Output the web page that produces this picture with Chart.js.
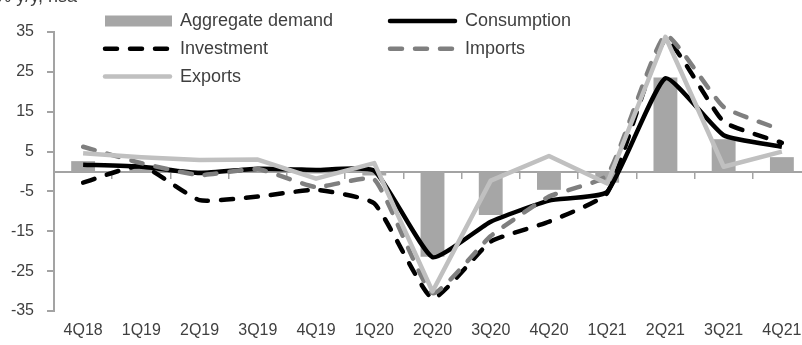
<!DOCTYPE html>
<html>
<head>
<meta charset="utf-8">
<script src="https://cdn.jsdelivr.net/npm/chart.js@4.4.1/dist/chart.umd.min.js"></script>
<style>
    html, body { margin: 0; padding: 0; background: #fff; overflow: hidden; }
    #wrap { position: relative; width: 802px; height: 345px; overflow: hidden; }
    #wrap canvas { position: absolute; left: 0; top: 0; }
</style>
</head>
<body>
<div id="wrap"><canvas id="demandChart" width="812" height="345"></canvas></div>
<script>
// ---------------- Datos ----------------

const quarters = ['4Q18', '1Q19', '2Q19', '3Q19', '4Q19', '1Q20', '2Q20', '3Q20', '4Q20', '1Q21', '2Q21', '3Q21', '4Q21'];

const aggregateDemand = [2.6, 1.0, 0.3, 0.6, -0.5, -1.0, -21.4, -10.9, -4.6, -2.8, 23.6, 8.1, 3.6];
const consumption     = [1.7, 1.2, -0.4, 0.7, 0.4, 0.2, -21.5, -12.6, -7.3, -5.1, 23.4, 9.1, 6.2];
const investment      = [-2.8, 1.4, -7.2, -6.3, -4.6, -8.0, -31.8, -17.6, -12.6, -5.4, 33.0, 12.5, 7.2];
const imports         = [6.2, 2.1, -0.9, 0.6, -3.9, -2.0, -30.5, -16.2, -6.3, -0.9, 34.2, 16.2, 10.4];
const exportsSeries   = [4.6, 3.6, 2.9, 3.0, -1.8, 2.1, -30.1, -2.3, 3.9, -3.0, 33.8, 1.2, 5.0];

const yTicks = [-35, -25, -15, -5, 5, 15, 25, 35];
const unitLabel = '% y/y, nsa';

// ---------------- Estilos ----------------

const FONT = "'Liberation Sans', Arial, sans-serif";
const TEXT = '#3f3f3f';
const AXIS = '#a3a3a3';
const DASH = [12, 13];

const LEGEND = { left: 103, top: 21, colGap: 285, rowGap: 27.8, swatch: 69, textGap: 8 };

// ---------------- Leyenda y unidad ----------------

const gridLegend = {
    id: 'gridLegend',
    afterDraw(chart) {
        const ctx = chart.ctx;
        ctx.save();

        ctx.font = `18px ${FONT}`;
        ctx.fillStyle = TEXT;
        ctx.textAlign = 'right';
        ctx.textBaseline = 'alphabetic';
        ctx.fillText(unitLabel, 77, 2);

        chart.data.datasets.forEach((ds, i) => {
            const x = LEGEND.left + (i % 2) * LEGEND.colGap;
            const y = LEGEND.top + Math.floor(i / 2) * LEGEND.rowGap;

            if (ds.type === 'line') {
                ctx.beginPath();
                ctx.strokeStyle = ds.borderColor;
                ctx.lineWidth = ds.borderWidth;
                ctx.lineCap = 'round';
                ctx.setLineDash(ds.borderDash);
                ctx.moveTo(x + 2, y);
                ctx.lineTo(x + LEGEND.swatch - 2, y);
                ctx.stroke();
                ctx.setLineDash([]);
            } else {
                ctx.fillStyle = ds.backgroundColor;
                ctx.fillRect(x + 2, y - 5.5, LEGEND.swatch - 2, 11);
            }

            ctx.fillStyle = TEXT;
            ctx.textAlign = 'left';
            ctx.textBaseline = 'middle';
            ctx.fillText(ds.label, x + LEGEND.swatch + LEGEND.textGap, y);
        });

        ctx.restore();
    }
};

// ---------------- Gráfica ----------------

function lineSeries(label, data, color, dash, order, tension) {
    return {
        type: 'line',
        label,
        data,
        borderColor: color,
        backgroundColor: color,
        borderWidth: 4.5,
        borderDash: dash,
        borderCapStyle: dash.length ? 'round' : 'butt',
        borderJoinStyle: 'round',
        pointRadius: 0,
        fill: false,
        tension,
        order
    };
}

new Chart(document.getElementById('demandChart'), {
    type: 'bar',
    data: {
        labels: quarters,
        datasets: [
            {
                type: 'bar',
                label: 'Aggregate demand',
                data: aggregateDemand,
                backgroundColor: '#a6a6a6',
                categoryPercentage: 1,
                barPercentage: 0.41,
                order: 5
            },
            lineSeries('Consumption', consumption, '#000000', [], 4, 0.15),
            lineSeries('Investment', investment, '#000000', DASH, 3, 0.15),
            lineSeries('Imports', imports, '#7f7f7f', DASH, 2, 0.15),
            lineSeries('Exports', exportsSeries, '#c0c0c0', [], 1, 0)
        ]
    },
    options: {
        responsive: false,
        animation: false,
        devicePixelRatio: 1,
        layout: { padding: { top: 32, right: 1, bottom: 0, left: 0 } },
        plugins: {
            legend: { display: false },
            tooltip: { enabled: false }
        },
        scales: {
            x: {
                offset: true,
                grid: { display: false, drawTicks: false },
                border: { display: false },
                ticks: { color: TEXT, font: { family: FONT, size: 16 }, padding: 10, maxRotation: 0, autoSkip: false },
                afterFit(scale) { scale.height = 34; }
            },
            xZero: {
                type: 'category',
                position: { y: 0 },
                offset: true,
                grid: { offset: true, drawOnChartArea: false, tickLength: 6, color: AXIS, lineWidth: 1.5 },
                border: { color: AXIS, width: 2 },
                ticks: { display: false }
            },
            y: {
                min: -35,
                max: 35,
                afterBuildTicks(scale) { scale.ticks = yTicks.map(v => ({ value: v })); },
                grid: { drawOnChartArea: false, tickLength: 7, color: AXIS, lineWidth: 2 },
                border: { color: AXIS, width: 2 },
                ticks: { color: TEXT, font: { family: FONT, size: 16 }, padding: 13 },
                afterFit(scale) { scale.width = 54; }
            }
        }
    },
    plugins: [gridLegend]
});
</script>
</body>
</html>
